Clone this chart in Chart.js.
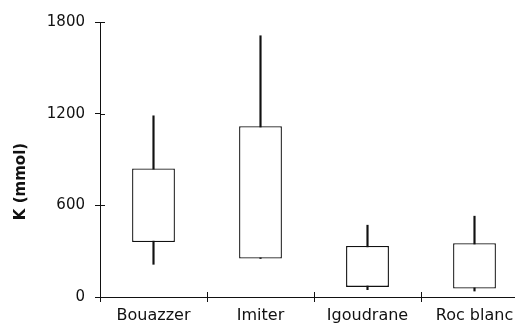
<!DOCTYPE html>
<html>
<head>
<meta charset="utf-8">
<script src="https://cdn.jsdelivr.net/npm/chart.js@4"></script>
<style>
    html, body { margin: 0; padding: 0; background: #fff; overflow: hidden; }
    #wrap { width: 530px; height: 325px; }
</style>
</head>
<body>
<div id="wrap"><canvas id="chart"></canvas></div>
<script>
/** DATA */

const categories = ['Bouazzer', 'Imiter', 'Igoudrane', 'Roc blanc'];
const q1 = [360, 252, 66, 55];
const q3 = [841, 1118, 334, 352];
const whiskerLow = [214, 252, 48, 39];
const whiskerHigh = [1186, 1710, 470, 529];
const yTicks = [0, 600, 1200, 1800];
const yTitle = 'K (mmol)';

const ink = '#111';

/** PLUGINS */

// tick marks that cross the axis line, like the original
const crossTicks = {
    id: 'crossTicks',
    afterDatasetsDraw: (chart) => {
        const { ctx, chartArea, scales } = chart;
        ctx.save();
        ctx.strokeStyle = ink;
        ctx.lineWidth = 1;
        ctx.beginPath();
        scales.y.ticks.forEach((t, i) => {
            const y = Math.round(scales.y.getPixelForTick(i)) + 0.5;
            ctx.moveTo(chartArea.left, y);
            ctx.lineTo(chartArea.left + 5, y);
        });
        for (let i = 1; i < categories.length; i++) {
            const x = Math.round((scales.x.getPixelForValue(i - 1) + scales.x.getPixelForValue(i)) / 2) + 0.5;
            ctx.moveTo(x, chartArea.bottom);
            ctx.lineTo(x, chartArea.bottom - 5);
        }
        ctx.stroke();
        ctx.restore();
    }
};

const sideTitle = {
    id: 'sideTitle',
    afterDraw: (chart) => {
        const { ctx, chartArea } = chart;
        ctx.save();
        ctx.translate(21, (chartArea.top + chartArea.bottom) / 2 + 22);
        ctx.rotate(-Math.PI / 2);
        ctx.font = 'bold 15px "DejaVu Sans"';
        ctx.fillStyle = ink;
        ctx.textAlign = 'center';
        ctx.textBaseline = 'middle';
        ctx.fillText(yTitle, 0, 0);
        ctx.restore();
    }
};

/** CHART */

const rangeData = (lo, hi) => lo.map((v, i) => [v, hi[i]]);

new Chart(document.getElementById('chart'), {
    type: 'bar',
    data: {
        labels: categories,
        datasets: [
            {
                label: 'box',
                data: rangeData(q1, q3),
                backgroundColor: '#fff',
                borderColor: ink,
                borderWidth: 1.3,
                borderSkipped: false,
                grouped: false,
                categoryPercentage: 1,
                barPercentage: 0.4,
                order: 1
            },
            {
                label: 'whisker',
                data: rangeData(whiskerLow, whiskerHigh),
                backgroundColor: ink,
                borderWidth: 0,
                grouped: false,
                barThickness: 1.5,
                order: 2
            }
        ]
    },
    plugins: [crossTicks, sideTitle],
    options: {
        responsive: true,
        maintainAspectRatio: false,
        animation: false,
        layout: { padding: { top: 22, right: 2, left: 0, bottom: 0 } },
        plugins: {
            legend: { display: false },
            tooltip: { enabled: false }
        },
        scales: {
            x: {
                offset: true,
                grid: {
                    offset: true,
                    drawOnChartArea: false,
                    drawTicks: true,
                    tickLength: 5,
                    color: ink
                },
                border: { display: true, color: ink, width: 1 },
                ticks: {
                    color: ink,
                    font: { family: 'DejaVu Sans', size: 16 },
                    padding: 4,
                    maxRotation: 0,
                    autoSkip: false
                },
                afterFit: (scale) => { scale.height = 28; }
            },
            y: {
                min: 0,
                max: 1800,
                afterBuildTicks: (scale) => { scale.ticks = yTicks.map(v => ({ value: v })); },
                grid: {
                    drawOnChartArea: false,
                    drawTicks: true,
                    tickLength: 5,
                    color: ink
                },
                border: { display: true, color: ink, width: 1 },
                ticks: {
                    color: ink,
                    font: { family: 'DejaVu Sans', size: 15 },
                    padding: 10,
                    callback: (v) => String(v)
                },
                afterFit: (scale) => { scale.width = 100; }
            }
        }
    }
});
</script>
</body>
</html>
